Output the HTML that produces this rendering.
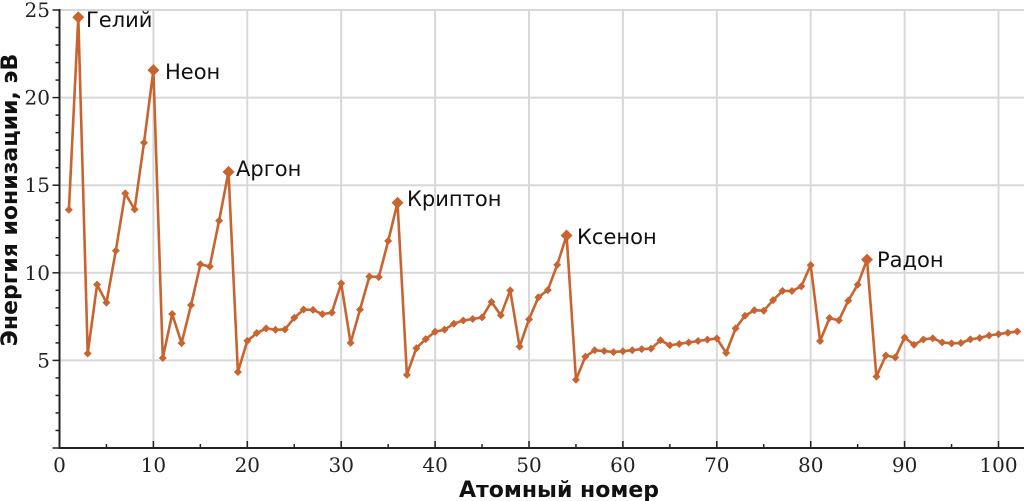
<!DOCTYPE html>
<html><head><meta charset="utf-8"><style>
html,body{margin:0;padding:0;background:#fff;width:1024px;height:501px;overflow:hidden}
svg{display:block}
.tk{font-family:"DejaVu Serif","Liberation Serif",serif;font-size:20px;fill:#222}
.lb{font-family:"DejaVu Sans","Liberation Sans",sans-serif;font-size:21px;fill:#111}
.ttl{font-family:"DejaVu Sans","Liberation Sans",sans-serif;font-size:22px;font-weight:bold;fill:#111}
</style></head><body>
<svg id="s" width="1024" height="501" xmlns="http://www.w3.org/2000/svg"></svg>
<script>
var E=[13.598,24.587,5.392,9.323,8.298,11.260,14.534,13.618,17.423,21.565,5.139,7.646,5.986,8.152,10.487,10.360,12.968,15.760,4.341,6.113,6.561,6.828,6.746,6.767,7.434,7.902,7.881,7.640,7.726,9.394,5.999,7.900,9.789,9.752,11.814,14.000,4.177,5.695,6.217,6.634,6.759,7.092,7.28,7.361,7.459,8.337,7.576,8.994,5.786,7.344,8.608,9.010,10.451,12.130,3.894,5.212,5.577,5.539,5.473,5.525,5.582,5.644,5.670,6.150,5.864,5.939,6.022,6.108,6.184,6.254,5.426,6.825,7.550,7.864,7.834,8.438,8.967,8.959,9.226,10.438,6.108,7.417,7.286,8.414,9.318,10.749,4.073,5.279,5.17,6.307,5.89,6.194,6.266,6.026,5.974,5.991,6.198,6.282,6.42,6.50,6.58,6.65];
function X(n){return 59.5+9.39*n}function Y(v){return 448-17.52*v}
var h='';
for(var i=10;i<=100;i+=10)h+='<line x1="'+X(i)+'" y1="10" x2="'+X(i)+'" y2="448" stroke="#d8d8d8" stroke-width="2"/>';
for(var v=5;v<=25;v+=5)h+='<line x1="59.5" y1="'+Y(v)+'" x2="1024" y2="'+Y(v)+'" stroke="#d8d8d8" stroke-width="2"/>';
h+='<line x1="59.5" y1="9" x2="59.5" y2="448" stroke="#222" stroke-width="2"/>';
h+='<line x1="58.5" y1="448" x2="1024" y2="448" stroke="#222" stroke-width="2"/>';
for(var v=0;v<=25;v++){var w=(v%5==0)?7:4;h+='<line x1="'+(59.5-w)+'" y1="'+Y(v)+'" x2="59.5" y2="'+Y(v)+'" stroke="#222" stroke-width="1.5"/>';}
for(var i=0;i<=105;i+=5){var w=(i%10==0)?7:4;if(X(i)<1024)h+='<line x1="'+X(i)+'" y1="448" x2="'+X(i)+'" y2="'+(448-w)+'" stroke="#222" stroke-width="1.5"/>';}
for(var v=5;v<=25;v+=5)h+='<text class="tk" x="50" y="'+(Y(v)+7)+'" text-anchor="end">'+v+'</text>';
for(var i=0;i<=100;i+=10)h+='<text class="tk" x="'+X(i)+'" y="472" text-anchor="middle">'+i+'</text>';
var p='';for(var i=0;i<E.length;i++)p+=(i?' ':'')+X(i+1).toFixed(1)+','+Y(E[i]).toFixed(1);
h+='<polyline points="'+p+'" fill="none" stroke="#c8642f" stroke-width="2.6" stroke-linejoin="round"/>';
var ng={2:1,10:1,18:1,36:1,54:1,86:1};
for(var i=0;i<E.length;i++){var x=X(i+1),y=Y(E[i]),r=ng[i+1]?6:4;h+='<polygon points="'+x+','+(y-r)+' '+(x+r)+','+y+' '+x+','+(y+r)+' '+(x-r)+','+y+'" fill="#c8642f"/>';}
var L=[[86,27,'Гелий'],[165,79,'Неон'],[236,176,'Аргон'],[407,206,'Криптон'],[577,244,'Ксенон'],[877,267,'Радон']];
L.forEach(function(l){h+='<text class="lb" x="'+l[0]+'" y="'+l[1]+'">'+l[2]+'</text>';});
h+='<text class="ttl" x="559" y="497" text-anchor="middle">Атомный номер</text>';
h+='<text class="ttl" transform="translate(17,200) rotate(-90)" text-anchor="middle">Энергия ионизации, эВ</text>';
document.getElementById('s').innerHTML=h;
</script>
</body></html>
